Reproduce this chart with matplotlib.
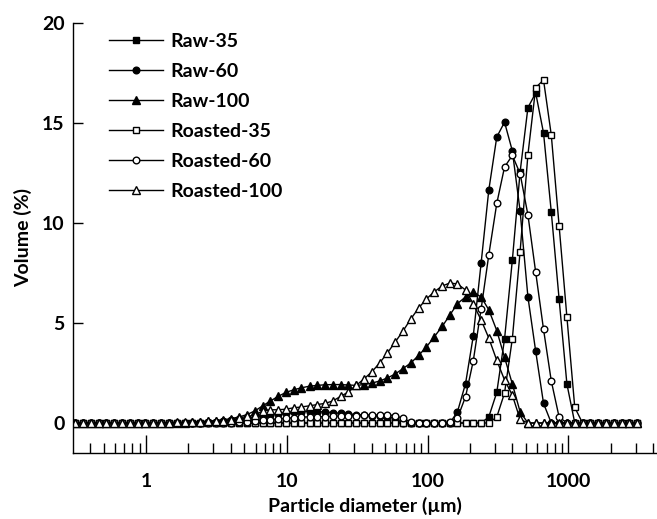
import numpy as np
import matplotlib
matplotlib.use('Agg')
import matplotlib.pyplot as plt
from matplotlib.ticker import LogLocator, FuncFormatter, NullFormatter

plt.rcParams['font.family'] = ['Lato', 'DejaVu Sans']
plt.rcParams['font.weight'] = 'bold'

# laser diffraction size classes (um)
size_um = [0.314, 0.357, 0.405, 0.460, 0.523, 0.594, 0.675, 0.767, 0.872, 0.991,
           1.13, 1.28, 1.45, 1.65, 1.88, 2.13, 2.42, 2.75, 3.12, 3.55,
           4.03, 4.58, 5.21, 5.92, 6.72, 7.64, 8.68, 9.86, 11.2, 12.7,
           14.5, 16.4, 18.7, 21.2, 24.1, 27.4, 31.1, 35.3, 40.1, 45.6,
           51.8, 58.9, 66.9, 76.0, 86.4, 98.1, 111, 127, 144, 163,
           186, 211, 240, 272, 310, 352, 400, 454, 516, 586,
           666, 756, 859, 976, 1110, 1260, 1430, 1630, 1850, 2100,
           2390, 2710, 3080]

raw_35 = [0, 0, 0, 0, 0, 0, 0, 0, 0, 0,
          0, 0, 0, 0, 0, 0, 0, 0, 0, 0,
          0, 0, 0, 0, 0, 0, 0, 0, 0, 0,
          0, 0, 0, 0, 0, 0, 0, 0, 0, 0,
          0, 0, 0, 0, 0, 0, 0, 0, 0, 0,
          0, 0, 0, 0.3, 1.53, 4.2, 8.15, 12.55, 15.77, 16.5,
          14.5, 10.55, 6.2, 1.95, 0, 0, 0, 0, 0, 0,
          0, 0, 0]

raw_60 = [0, 0, 0, 0, 0, 0, 0, 0, 0, 0,
          0, 0, 0, 0, 0, 0, 0.02, 0.04, 0.07, 0.1,
          0.14, 0.18, 0.23, 0.28, 0.34, 0.4, 0.46, 0.5, 0.54, 0.56,
          0.57, 0.57, 0.55, 0.52, 0.48, 0.45, 0.42, 0.4, 0.37, 0.35,
          0.32, 0.22, 0, 0, 0, 0, 0, 0, 0, 0.56,
          1.97, 4.34, 8.0, 11.64, 14.3, 15.04, 13.6, 10.6, 6.3, 3.58,
          0.98, 0, 0, 0, 0, 0, 0, 0, 0, 0,
          0, 0, 0]

raw_100 = [0, 0, 0, 0, 0, 0, 0, 0, 0, 0,
           0, 0, 0, 0, 0.02, 0.03, 0.05, 0.08, 0.12, 0.16,
           0.22, 0.3, 0.42, 0.6, 0.85, 1.1, 1.33, 1.53, 1.66, 1.76,
           1.84, 1.88, 1.91, 1.92, 1.92, 1.9, 1.88, 1.92, 1.99, 2.1,
           2.25, 2.45, 2.72, 3.0, 3.38, 3.8, 4.29, 4.83, 5.4, 5.97,
           6.3, 6.55, 6.3, 5.66, 4.62, 3.28, 1.95, 0.56, 0, 0,
           0, 0, 0, 0, 0, 0, 0, 0, 0, 0,
           0, 0, 0]

roasted_35 = [0, 0, 0, 0, 0, 0, 0, 0, 0, 0,
              0, 0, 0, 0, 0, 0, 0, 0, 0, 0,
              0, 0, 0, 0, 0, 0, 0, 0, 0, 0,
              0, 0, 0, 0, 0, 0, 0, 0, 0, 0,
              0, 0, 0, 0, 0, 0, 0, 0, 0, 0,
              0, 0, 0, 0, 0.3, 1.5, 4.22, 8.57, 13.42, 16.77,
              17.15, 14.4, 9.87, 5.3, 0.78, 0, 0, 0, 0, 0,
              0, 0, 0]

roasted_60 = [0, 0, 0, 0, 0, 0, 0, 0, 0, 0,
              0, 0, 0, 0, 0, 0, 0, 0, 0, 0,
              0.02, 0.04, 0.07, 0.1, 0.14, 0.17, 0.2, 0.23, 0.26, 0.29,
              0.31, 0.31, 0.32, 0.33, 0.35, 0.36, 0.37, 0.38, 0.4, 0.4,
              0.4, 0.37, 0.23, 0.05, 0, 0, 0, 0, 0.05, 0.25,
              1.31, 3.1, 5.7, 8.4, 10.98, 12.8, 13.38, 12.47, 10.4, 7.53,
              4.68, 2.1, 0.3, 0, 0, 0, 0, 0, 0, 0,
              0, 0, 0]

roasted_100 = [0, 0, 0, 0, 0, 0, 0, 0, 0, 0,
               0.01, 0.01, 0.02, 0.03, 0.04, 0.05, 0.06, 0.08, 0.1, 0.12,
               0.15, 0.25, 0.33, 0.38, 0.6, 0.66, 0.66, 0.69, 0.76, 0.8,
               0.86, 0.92, 0.98, 1.1, 1.33, 1.55, 1.88, 2.2, 2.55, 3.0,
               3.5, 4.05, 4.6, 5.2, 5.75, 6.2, 6.55, 6.85, 7.0, 6.95,
               6.65, 5.95, 5.15, 4.25, 3.13, 2.15, 1.39, 0.18, 0, 0,
               0, 0, 0, 0, 0, 0, 0, 0, 0, 0,
               0, 0, 0]

labels = ['Raw-35', 'Raw-60', 'Raw-100', 'Roasted-35', 'Roasted-60', 'Roasted-100']

fs = 14

fig = plt.figure(figsize=(6.57, 5.19), dpi=100)
ax = fig.add_axes([0.1107, 0.1272, 0.8893, 0.8285])

series = [(raw_35, 's', 'black', 4.5),
          (raw_60, 'o', 'black', 4.8),
          (raw_100, '^', 'black', 5.5),
          (roasted_35, 's', 'white', 4.5),
          (roasted_60, 'o', 'white', 4.8),
          (roasted_100, '^', 'white', 5.5)]
for (vals, m, fc, ms), lab in zip(series, labels):
    ax.plot(size_um, vals, marker=m, color='black', mfc=fc, mec='black',
            ms=ms, mew=1.0, lw=1.0, label=lab)

ax.set_xscale('log')
ax.set_xlim(0.3016, 4260)
ax.set_ylim(-1.5, 20)
ax.set_yticks([0, 5, 10, 15, 20])
ax.xaxis.set_major_locator(LogLocator(base=10))
ax.xaxis.set_minor_locator(LogLocator(base=10, subs=np.arange(2, 10)))
ax.xaxis.set_major_formatter(FuncFormatter(lambda v, p: f'{v:g}'))
ax.xaxis.set_minor_formatter(NullFormatter())
ax.tick_params(axis='x', which='major', direction='in', length=13, width=1, pad=14.5, labelsize=fs)
ax.tick_params(axis='x', which='minor', direction='in', length=7, width=1)
ax.tick_params(axis='y', direction='in', length=7, width=1, pad=5.8, labelsize=fs)
for s in ['top', 'right']:
    ax.spines[s].set_visible(False)
for s in ['left', 'bottom']:
    ax.spines[s].set_linewidth(1)

ax.set_xlabel('Particle diameter (µm)', fontsize=fs, fontweight='bold', labelpad=5)
ax.set_ylabel('Volume (%)', fontsize=fs, fontweight='bold', labelpad=7)

ax.legend(loc='upper left', bbox_to_anchor=(0.062, 0.977), frameon=False,
          handlelength=2.78, handletextpad=0.36, labelspacing=0.67, fontsize=fs,
          borderpad=0, borderaxespad=0, numpoints=1)

fig.savefig('out.png', dpi=100)
